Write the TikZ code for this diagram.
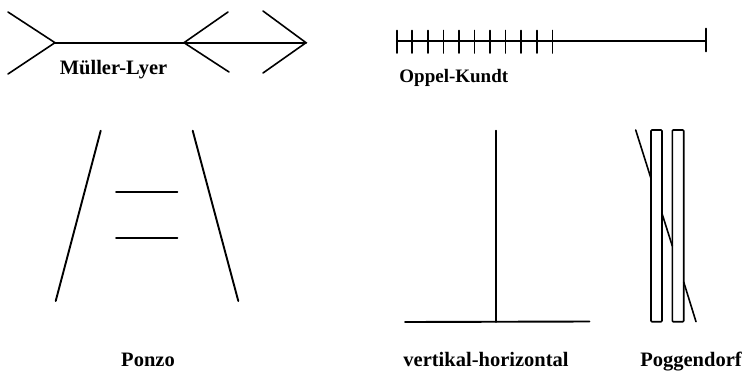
\documentclass[tikz,border=0pt]{standalone}
\usepackage{fontspec}
\setmainfont{Liberation Serif}
\tikzset{
  fig/.style={line width=1.9pt, black, line cap=round},
  thin fig/.style={line width=1.6pt, black, line cap=round},
  lbl/.style={anchor=base, inner sep=0pt, font=\fontsize{20.5}{24}\selectfont\bfseries},
  lblsmall/.style={anchor=base, inner sep=0pt, font=\fontsize{19}{22}\selectfont\bfseries}
}
\begin{document}
\begin{tikzpicture}[x=1pt,y=-1pt]
\useasboundingbox (0,0) rectangle (749,370);
% Mueller-Lyer
\draw[thin fig] (55,42.7) -- (306,42.7);
\draw[thin fig] (8,12) -- (55,42.7) -- (8,74);
\draw[thin fig] (228,12) -- (184,42.7) -- (229,72);
\draw[thin fig] (263,11) -- (306,42.7) -- (263,73);
\node[lbl] (ml) at (113.5,74) {Müller-Lyer};
% Oppel-Kundt
\draw[thin fig] (396.7,40.7) -- (705.7,40.7);
\foreach \i in {0,...,10}{
  \draw[thin fig] ({396.7+\i*15.56},30.5) -- ({396.7+\i*15.56},53);
}
\draw[thin fig] (705.7,28.5) -- (705.7,51.5);
\node[lblsmall] (ok) at (453.8,82) {Oppel-Kundt};
% Ponzo
\draw[fig] (100.7,130.7) -- (55.7,301);
\draw[fig] (192.7,130.7) -- (238.3,301);
\draw[fig] (116,191.7) -- (177.3,191.7);
\draw[fig] (116,238.3) -- (177.3,238.3);
\node[lbl] (pz) at (148,366) {Ponzo};
% vertikal-horizontal
\draw[fig] (496,130.7) -- (496,322);
\draw[fig] (405,322) -- (589.3,321.5);
\node[lbl] (vh) at (486,366.5) {vertikal-horizontal};
% Poggendorf
\draw[thin fig, rounded corners=1pt] (651,130) rectangle (662,321.7);
\draw[thin fig, rounded corners=1pt] (672.3,130) rectangle (683.7,321.7);
\draw[thin fig] (635.7,130) -- (651,178.5);
\draw[thin fig] (662,213.5) -- (672.3,246);
\draw[thin fig] (683.7,282) -- (696,321.7);
\node[lbl] (pg) at (691,366.5) {Poggendorf};
\end{tikzpicture}
\end{document}
